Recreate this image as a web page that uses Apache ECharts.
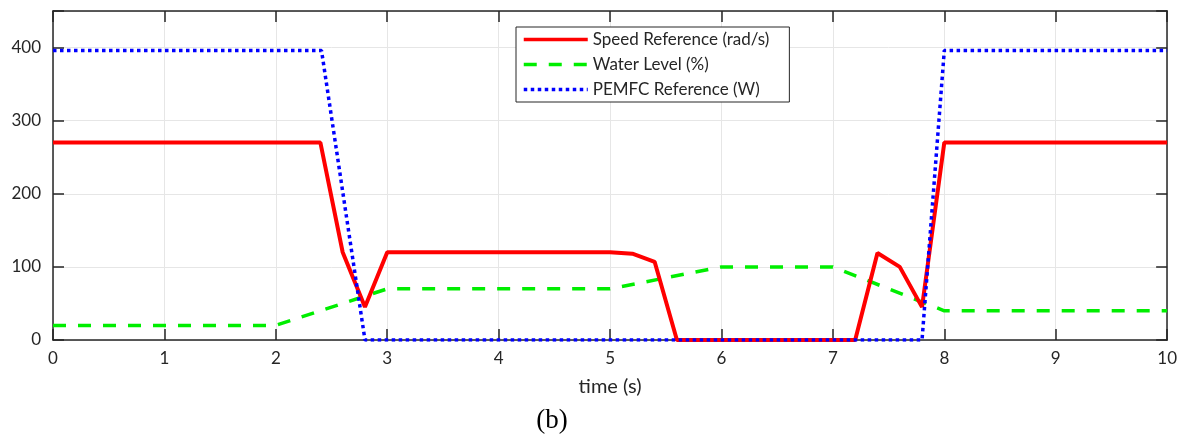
<!DOCTYPE html>
<html>
<head>
<meta charset="utf-8">
<script src="https://cdn.jsdelivr.net/npm/echarts@6/dist/echarts.min.js"></script>
<style>
  html, body { margin: 0; padding: 0; background: #fff; }
  #chart { width: 1180px; height: 435px; }
</style>
</head>
<body>
<div id="chart"></div>
<script>
// Time samples (s) and the three signals
const speedTime  = [0, 2.4, 2.6, 2.8, 3.0, 5.0, 5.2, 5.4, 5.6, 7.2, 7.4, 7.6, 7.8, 8.0, 10];
const speedValue = [270, 270, 120, 45, 120, 120, 118, 107, 0, 0, 119, 100, 45, 270, 270];

const waterTime  = [0, 2.0, 3.0, 5.0, 6.0, 7.0, 8.0, 10];
const waterValue = [20, 20, 70, 70, 100, 100, 40, 40];

const pemfcTime  = [0, 2.41, 2.8, 7.8, 8.0, 10];
const pemfcValue = [396, 396, 0, 0, 396, 396];

const xTicks = [0, 1, 2, 3, 4, 5, 6, 7, 8, 9, 10];
const yTicks = [0, 100, 200, 300, 400];

const seriesNames = ['Speed Reference (rad/s)', 'Water Level (%)', 'PEMFC Reference (W)'];

const pairs = (xs, ys) => xs.map((x, i) => [x, ys[i]]);

const FONT = 'Lato';
const axisColor = '#262626';
const gridColor = '#e6e6e6';

// Boxed frame: every side carries inward ticks
function frameAxis(pos, isX) {
  return {
    type: 'value', gridIndex: 0, position: pos,
    min: 0, max: isX ? 10 : 450, interval: isX ? 1 : 100,
    axisLine: { show: true, onZero: false, lineStyle: { color: axisColor, width: 1.5 } },
    axisTick: { show: true, inside: true, length: 11, lineStyle: { color: axisColor, width: 1.5 } },
    axisLabel: { show: false },
    splitLine: { show: false }
  };
}

const xBottom = frameAxis('bottom', true);
xBottom.name = 'time (s)';
xBottom.nameLocation = 'middle';
xBottom.nameGap = 37;
xBottom.nameTextStyle = { fontFamily: FONT, fontSize: 20, color: '#262626' };
xBottom.axisLabel = { show: true, fontFamily: FONT, fontSize: 17, color: '#262626', margin: 10,
  formatter: v => (xTicks.indexOf(v) >= 0 ? String(v) : '') };
xBottom.splitLine = { show: true, lineStyle: { color: gridColor, width: 1 } };

const yLeft = frameAxis('left', false);
yLeft.axisLabel = { show: true, fontFamily: FONT, fontSize: 17, color: '#262626', margin: 12,
  formatter: v => (yTicks.indexOf(v) >= 0 ? String(v) : '') };
yLeft.splitLine = { show: true, lineStyle: { color: gridColor, width: 1 } };

const chart = echarts.init(document.getElementById('chart'), null, { renderer: 'canvas' });

chart.setOption({
  animation: false,
  backgroundColor: '#ffffff',
  grid: { left: 53, right: 12, top: 11, bottom: 95, containLabel: false },
  title: {
    text: '(b)', left: 547, top: 402, textAlign: 'center',
    textStyle: { fontFamily: 'Liberation Serif', fontSize: 27, fontWeight: 'normal', color: '#000' }
  },
  legend: {
    show: true,
    left: 516, top: 27, orient: 'vertical',
    itemWidth: 64, itemHeight: 14, itemGap: 8,
    padding: [4, 20, 4, 6],
    borderColor: '#262626', borderWidth: 1, backgroundColor: '#fff',
    itemStyle: { opacity: 0 },
    lineStyle: { width: 3.5 },
    textStyle: { fontFamily: FONT, fontSize: 17, color: '#262626' },
    data: seriesNames
  },
  xAxis: [xBottom, frameAxis('top', true)],
  yAxis: [yLeft, frameAxis('right', false)],
  series: [
    {
      name: seriesNames[0], type: 'line', data: pairs(speedTime, speedValue),
      showSymbol: false, symbol: 'none', z: 3,
      lineStyle: { color: '#ff0000', width: 4, type: 'solid' },
      itemStyle: { color: '#ff0000' }
    },
    {
      name: seriesNames[1], type: 'line', data: pairs(waterTime, waterValue),
      showSymbol: false, symbol: 'none', z: 2,
      lineStyle: { color: '#00ee00', width: 3.5, type: [13, 12] },
      itemStyle: { color: '#00ee00' }
    },
    {
      name: seriesNames[2], type: 'line', data: pairs(pemfcTime, pemfcValue),
      showSymbol: false, symbol: 'none', z: 4,
      lineStyle: { color: '#0000ff', width: 3.5, type: [3.5, 3.5] },
      itemStyle: { color: '#0000ff' }
    }
  ]
});
</script>
</body>
</html>
